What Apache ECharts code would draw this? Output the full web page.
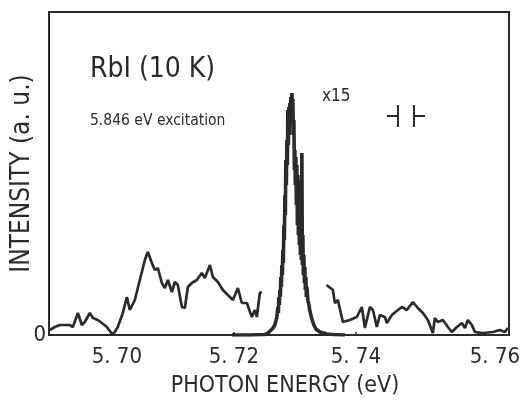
<!DOCTYPE html>
<html><head><meta charset="utf-8">
<script src="https://cdn.jsdelivr.net/npm/echarts@6/dist/echarts.min.js"></script>
<style>html,body{margin:0;padding:0;background:#fff}#c{width:523px;height:408px}</style>
</head><body><div id="c"></div>
<script>
// Photon energy (eV) and intensity (a.u.)
var leftEnergy = [5.68984,5.69066,5.69148,5.69311,5.69361,5.69443,5.69508,5.69557,5.69639,5.69689,5.69770,5.69836,5.69918,5.70016,5.70098,5.70180,5.70246,5.70295,5.70377,5.70459,5.70541,5.70590,5.70656,5.70705,5.70754,5.70820,5.70869,5.70918,5.70984,5.71033,5.71082,5.71148,5.71197,5.71246,5.71311,5.71393,5.71475,5.71525,5.71607,5.71656,5.71738,5.71820,5.71902,5.71984,5.72066,5.72131,5.72213,5.72295,5.72344,5.72377,5.72426,5.72459];
var leftInt = [5,8,10,10,8,22,10,13,22,17,15,12,8,0,8,22,38,25,35,55,75,83,72,65,67,52,47,55,43,53,50,28,27,48,52,55,62,57,70,58,53,45,40,35,47,32,32,18,25,18,42,43];

var peakEnergy = [5.71967,5.72262,5.72508,5.72557,5.72639,5.72672,5.72705,5.72721,5.72730,5.72738,5.72746,5.72754,5.72762,5.72770,5.72779,5.72787,5.72795,5.72803,5.72811,5.72820,5.72828,5.72836,5.72844,5.72852,5.72861,5.72869,5.72877,5.72885,5.72893,5.72902,5.72910,5.72918,5.72926,5.72934,5.72943,5.72951,5.72959,5.72967,5.72975,5.72984,5.72992,5.73000,5.73008,5.73016,5.73025,5.73033,5.73041,5.73049,5.73057,5.73066,5.73074,5.73082,5.73090,5.73098,5.73107,5.73115,5.73123,5.73131,5.73139,5.73148,5.73156,5.73164,5.73172,5.73180,5.73189,5.73197,5.73213,5.73230,5.73246,5.73279,5.73311,5.73344,5.73410,5.73525,5.73623,5.73820];
var peakInt = [0,0,0.5,1.7,6.7,10,18,28,22,38,30,45,38,58,48,70,60,85,72,110,95,140,120,175,150,195,170,225,190,228,200,232,215,238,225,242,228,236,200,215,165,185,150,178,130,170,110,160,100,150,90,155,80,130,75,182,70,100,60,80,52,68,45,58,38,48,35,30,24,16,10,6,3,1,0.5,0];

var rightEnergy = [5.73520,5.73623,5.73656,5.73705,5.73787,5.73902,5.74016,5.74098,5.74148,5.74230,5.74279,5.74344,5.74393,5.74475,5.74508,5.74590,5.74689,5.74754,5.74836,5.74934,5.75016,5.75098,5.75180,5.75262,5.75295,5.75344,5.75426,5.75508,5.75574,5.75656,5.75738,5.75787,5.75836,5.75902,5.75951,5.76082,5.76246,5.76361,5.76443,5.76492];
var rightInt = [50,45,32,35,13,15,18,28,7,28,25,8,20,18,12,20,25,28,25,33,27,22,15,2,17,13,15,8,3,8,12,7,15,10,3,2,3,5,3,7];

var xTicks = [5.70, 5.72, 5.74, 5.76];
var yTicks = [0];

function zip(a, b) { return a.map(function (v, i) { return [v, b[i]]; }); }
var FONT = "'DejaVu Sans Condensed','Liberation Sans Narrow','Liberation Sans',sans-serif";
var INK = '#2b2b2b';

var chart = echarts.init(document.getElementById('c'), null, {renderer: 'canvas'});
var lineStyle = {color: INK, width: 2.7};
chart.setOption({
  animation: false,
  backgroundColor: '#fff',
  grid: {left: 49, right: 14, top: 12, bottom: 73, show: true, borderColor: INK, borderWidth: 2,
         containLabel: false, outerBoundsMode: 'none'},
  xAxis: {
    type: 'value', min: 5.6897, max: 5.7651,
    name: 'PHOTON ENERGY (eV)', nameLocation: 'middle', nameGap: 40, nameMoveOverlap: false,
    nameTextStyle: {fontFamily: FONT, fontSize: 23, color: INK, padding: [0, 0, 0, 12]},
    axisLine: {lineStyle: {color: INK, width: 2}},
    axisTick: {show: true, inside: true, length: 3, customValues: xTicks, lineStyle: {color: INK, width: 1.5}},
    splitLine: {show: false},
    axisLabel: {
      customValues: xTicks, margin: 11, fontFamily: FONT, fontSize: 22, color: INK,
      formatter: function (v) {
        var s = v.toFixed(2).replace('.', '. ');
        if (Math.abs(v - 5.76) < 1e-6) return '{r|' + s + '}';
        if (Math.abs(v - 5.70) < 1e-6) return '{a|' + s + '}';
        return s;
      },
      rich: {
        r: {fontFamily: FONT, fontSize: 22, color: INK, padding: [0, 0, 0, 34]},
        a: {fontFamily: FONT, fontSize: 22, color: INK, padding: [0, 0, 0, 10]}
      }
    }
  },
  yAxis: {
    type: 'value', min: 0, max: 323,
    name: 'INTENSITY (a. u.)', nameLocation: 'middle', nameGap: 14, nameRotate: 90, nameMoveOverlap: false,
    nameTextStyle: {fontFamily: FONT, fontSize: 26, color: INK},
    axisLine: {show: true, lineStyle: {color: INK, width: 2}},
    axisTick: {show: false},
    splitLine: {show: false},
    axisLabel: {customValues: yTicks, margin: 3, fontFamily: FONT, fontSize: 22, color: INK}
  },
  series: [
    {type: 'line', data: zip(leftEnergy, leftInt), showSymbol: false, lineStyle: lineStyle},
    {type: 'line', data: zip(peakEnergy, peakInt), showSymbol: false, lineStyle: {color: INK, width: 3.6}},
    {type: 'line', data: zip(rightEnergy, rightInt), showSymbol: false, lineStyle: lineStyle}
  ],
  graphic: [
    {type: 'text', left: 90, top: 56, style: {text: 'RbI (10 K)', font: '28px ' + FONT, fill: INK}},
    {type: 'text', left: 90, top: 113, style: {text: '5.846 eV excitation', font: '15.5px ' + FONT, fill: INK}},
    {type: 'text', left: 322, top: 88, style: {text: 'x15', font: '17px ' + FONT, fill: INK}},
    {type: 'line', shape: {x1: 387, y1: 116, x2: 398, y2: 116}, style: {stroke: INK, lineWidth: 2}},
    {type: 'line', shape: {x1: 398, y1: 105, x2: 398, y2: 127}, style: {stroke: INK, lineWidth: 2}},
    {type: 'line', shape: {x1: 414, y1: 105, x2: 414, y2: 127}, style: {stroke: INK, lineWidth: 2}},
    {type: 'line', shape: {x1: 414, y1: 116, x2: 425, y2: 116}, style: {stroke: INK, lineWidth: 2}}
  ]
});
</script></body></html>
